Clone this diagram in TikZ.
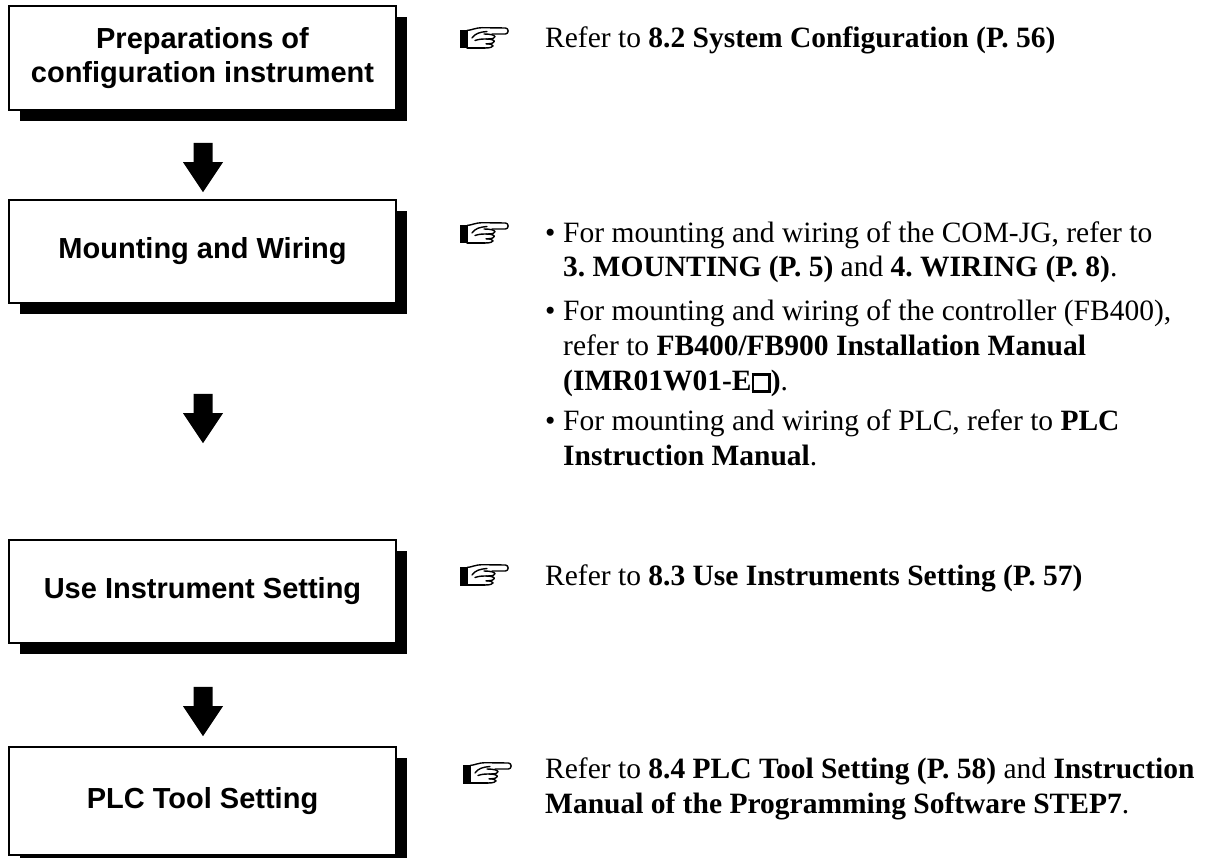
\documentclass[tikz,border=0pt]{standalone}
\usepackage{fontspec}
\setmainfont{Liberation Serif}
\newfontfamily\boxfont{Liberation Sans}
\usetikzlibrary{calc,shadows}
\newcommand{\emptysq}{{\setlength{\fboxsep}{0pt}\setlength{\fboxrule}{2.6pt}\fbox{\rule{0pt}{14pt}\rule{14pt}{0pt}}}}
\newcommand{\flowarrow}[2]{%
  \fill ($(#1)+(-9.5,0)$) -- ($(#1)+(9.5,0)$) -- ($(#2)+(9.5,-30)$) -- ($(#2)+(20,-30)$) -- (#2)
        -- ($(#2)+(-20,-30)$) -- ($(#2)+(-9.5,-30)$) -- cycle;}
\tikzset{
  flowbox/.style={draw=black, line width=1.6pt, fill=white, minimum width=387pt,
    inner sep=0pt, align=center, font=\boxfont\bfseries\fontsize{29}{34}\selectfont,
    drop shadow={shadow xshift=11pt, shadow yshift=-11pt, fill=black, opacity=1}},
  reftext/.style={anchor=base west, inner sep=0pt, font=\fontsize{29.5}{35}\selectfont\frenchspacing},
  hand/.pic={
    \begin{scope}[line width=1.4pt, line join=round, line cap=round]
      \fill (0,3) rectangle (7.5,21.5);
      \draw (7,3.5) .. controls (12,3) and (16,0.7) .. (22,0.7) -- (45.5,1)
            .. controls (49,1) and (49,7) .. (45.5,7) -- (32,7);
      \draw (7,21) -- (25,21);
      \draw (24,7) .. controls (38,7) and (38,12) .. (28,12);
      \draw (26,12) .. controls (37,12) and (37,16.8) .. (27,16.8);
      \draw (26,16.8) .. controls (35.5,16.8) and (35.5,21) .. (25,21);
      \draw (12,11) .. controls (15,6.5) and (20,5) .. (27,4.5);
      \draw (15,13.5) .. controls (19,12) and (23,12) .. (27,12);
    \end{scope}
  }
}
\begin{document}
\begin{tikzpicture}[x=1pt,y=-1pt]
\useasboundingbox (0,0) rectangle (1206,858);
% boxes
\node[flowbox, minimum height=104pt] (b1) at (202.5,58) {Preparations of\\configuration instrument};
\node[flowbox, minimum height=103pt] (b2) at (202.5,251.5) {Mounting and Wiring};
\node[flowbox, minimum height=103pt] (b3) at (202.5,591.5) {Use Instrument Setting};
\node[flowbox, minimum height=108pt] (b4) at (202.5,801) {PLC Tool Setting};
% arrows
\coordinate (a1t) at ($(b1.south)+(0.5,32)$);
\coordinate (a1b) at ($(b2.north)+(0.5,-7)$);
\coordinate (a2t) at ($(b2.south)+(0.5,90)$);
\coordinate (a2b) at ($(b3.north)+(0.5,-96)$);
\coordinate (a3t) at ($(b3.south)+(0.5,43)$);
\coordinate (a3b) at ($(b4.north)+(0.5,-10)$);
\flowarrow{a1t}{a1b}
\flowarrow{a2t}{a2b}
\flowarrow{a3t}{a3b}
% hands
\pic (h1) at (460,27) {hand};
\pic (h2) at (460,222) {hand};
\pic (h3) at (460,564) {hand};
\pic (h4) at (463,762) {hand};
% reference texts
\node[reftext] (r1) at (545,48) {Refer to \textbf{8.2 System Configuration (P. 56)}};
\node[reftext] (p1) at (545,243) {\textbullet};
\node[reftext] (l1) at (563,243) {For mounting and wiring of the COM-JG, refer to};
\node[reftext] (l2) at (563,277) {\textbf{3. MOUNTING (P. 5)} and \textbf{4. WIRING (P. 8)}.};
\node[reftext] (p2) at (545,320) {\textbullet};
\node[reftext] (l3) at (563,320) {For mounting and wiring of the controller (FB400),};
\node[reftext] (l4) at (563,355) {refer to \textbf{FB400/FB900 Installation Manual}};
\node[reftext] (l5) at (563,390) {\textbf{(IMR01W01-E\emptysq)}.};
\node[reftext] (p3) at (545,430) {\textbullet};
\node[reftext] (l6) at (563,430) {For mounting and wiring of PLC, refer to \textbf{PLC}};
\node[reftext] (l7) at (563,465) {\textbf{Instruction Manual}.};
\node[reftext] (r3) at (545,585) {Refer to \textbf{8.3 Use Instruments Setting (P. 57)}};
\node[reftext] (r4) at (545,778) {Refer to \textbf{8.4 PLC Tool Setting (P. 58)} and \textbf{Instruction}};
\node[reftext] (r5) at (545,813) {\textbf{Manual of the Programming Software STEP7}.};
\end{tikzpicture}
\end{document}
